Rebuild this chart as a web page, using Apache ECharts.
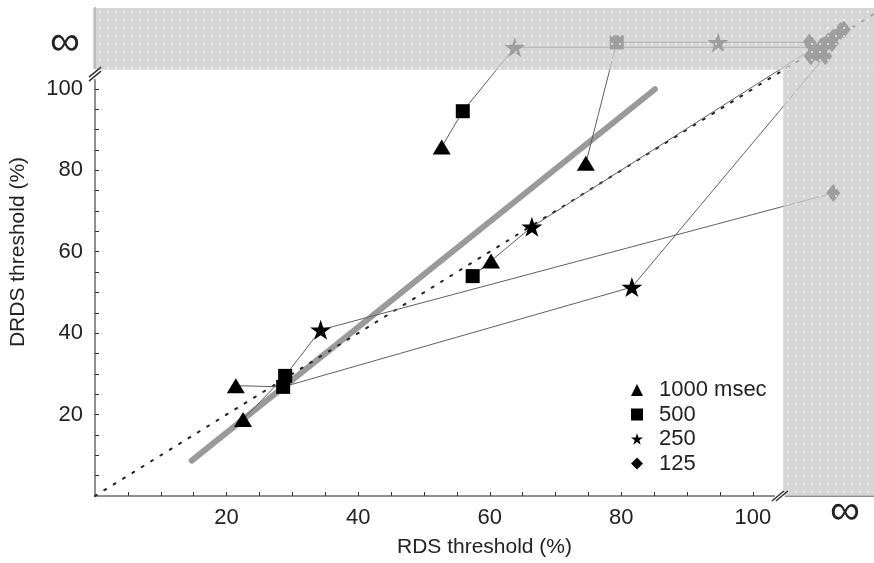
<!DOCTYPE html>
<html><head><meta charset="utf-8">
<script src="https://cdn.jsdelivr.net/npm/echarts@6/dist/echarts.min.js"></script>
<style>html,body{margin:0;padding:0;background:#fff}#c{width:874px;height:563px}</style>
</head><body><div id="c"></div>
<script>
// ---- data ----
const durations = ['1000 msec', '500', '250', '125'];
// one entry per condition (trace), same order in every array
const tri1000 = [[52.7, 85.7], [74.6, 81.7], [60.2, 57.7], [21.4, 27.1], [22.5, 18.8]];
const sq500   = [[55.9, 94.5], [79.3, 111.4], [57.4, 54.0], [28.6, 26.8], [28.9, 29.5]];
const star250 = [[63.8, 110.2], [94.7, 111.4], [66.4, 66.1], [81.6, 51.3], [34.3, 40.8]];
const dia125  = [[110.3, 110.2], [108.6, 111.4], [113.3, 114.2], [111.0, 108.0], [112.2, 74.4]];
const dia125Cluster = [[108.8, 108.0], [109.6, 109.0], [110.6, 110.6], [111.4, 111.6], [112.2, 112.6], [113.8, 114.6], [110.0, 108.6], [112.0, 111.2]];
const fitLine = [[14.7, 8.7], [85.1, 99.9]];
const identityLine = [[0, 0], [118.4, 118.4]];
const xTickValues = [5,10,15,20,25,30,35,40,45,50,55,60,65,70,75,80,85,90,95,100];
const yTickValues = [5,10,15,20,25,30,35,40,45,50,55,60,65,70,75,80,85,90,95,100];
const xLabelValues = [20, 40, 60, 80, 100];
const yLabelValues = [20, 40, 60, 80, 100];
const INF_X = 114;     // position of the "∞" category on x
const INF_Y = 111.2;   // position of the "∞" category on y
const X_BREAK = 104.6; // start of the ∞ band on x
const Y_BREAK = 104.7; // start of the ∞ band on y
const X_MAX = 118.4, Y_MAX = 119.85;

const FONT = 'Liberation Sans';
const chart = echarts.init(document.getElementById('c'), null, {renderer: 'canvas'});
const starPath = 'path://M50,0L61.8,35.1L98.9,35.1L68.8,57.3L80.2,92.7L50,70.8L19.8,92.7L31.2,57.3L1.1,35.1L38.2,35.1Z';
const symbols = ['triangle', 'rect', starPath, 'diamond'];
const sizes = [[18, 15], [14, 14], [21, 20], [14, 18]];
const sets = [tri1000, sq500, star250, dia125.concat(dia125Cluster)];

const series = [];
series.push({type: 'line', data: fitLine, symbol: 'none', silent: true, z: 1,
  lineStyle: {color: '#9a9a9a', width: 6, cap: 'round'}});
series.push({type: 'line', data: identityLine, symbol: 'none', silent: true, z: 2,
  lineStyle: {color: '#222', width: 2, type: [2, 9], cap: 'round'}});
tri1000.forEach((_, i) => {
  series.push({type: 'line', data: [tri1000[i], sq500[i], star250[i], dia125[i]], symbol: 'none',
    silent: true, z: 3, lineStyle: {color: '#606060', width: 1}});
});
sets.forEach((d, k) => {
  series.push({type: 'scatter', name: durations[k], data: d, symbol: symbols[k], symbolSize: sizes[k],
    z: 5, itemStyle: {color: '#000', opacity: 1}});
});

const axisCommon = {
  type: 'value', splitLine: {show: false},
  axisLine: {show: true, lineStyle: {color: '#6a6a6a', width: 1.5}},
  nameTextStyle: {fontFamily: FONT, fontSize: 21, color: '#222'},
  nameLocation: 'middle'
};

chart.setOption({
  animation: false,
  backgroundColor: '#fff',
  grid: {left: 95, right: 0, top: 8, bottom: 66},
  xAxis: Object.assign({}, axisCommon, {
    min: 0, max: X_MAX, name: 'RDS threshold (%)', nameGap: 41,
    axisTick: {show: true, inside: true, length: 4, customValues: xTickValues, lineStyle: {color: '#333'}},
    axisLabel: {customValues: xLabelValues, margin: 11, fontFamily: FONT, fontSize: 22, color: '#222'}
  }),
  yAxis: Object.assign({}, axisCommon, {
    min: 0, max: Y_MAX, name: 'DRDS threshold (%)', nameGap: 66,
    axisTick: {show: true, inside: true, length: 4, customValues: yTickValues, lineStyle: {color: '#333'}},
    axisLabel: {customValues: yLabelValues, margin: 12, fontFamily: FONT, fontSize: 22, color: '#222'}
  }),
  legend: {
    data: durations, orient: 'vertical', left: 626, top: 374, itemWidth: 12, itemHeight: 12, itemGap: 2.5,
    textStyle: {fontFamily: FONT, fontSize: 22, color: '#222', padding: [0, 0, 0, 11]}
  },
  series: series
});

// ---- ∞ bands, break marks and ∞ labels ----
const cvs = document.createElement('canvas');
cvs.width = 8; cvs.height = 8;
const g = cvs.getContext('2d');
g.fillStyle = 'rgba(202,202,202,0.78)'; g.fillRect(0, 0, 8, 8);
g.fillStyle = 'rgba(255,255,255,0.85)'; g.beginPath(); g.arc(4, 4, 0.9, 0, Math.PI * 2); g.fill();

const P = (x, y) => chart.convertToPixel({gridIndex: 0}, [x, y]);
const tl = P(0, Y_MAX), brk = P(X_BREAK, Y_BREAK), br = P(X_MAX, 0);
const pat = {image: cvs, repeat: 'repeat'};
const ybk = P(0, 103.6), xbk = P(104.1, 0), infY = P(0, INF_Y), infX = P(INF_X, 0);
const slash = (cx, cy, dy) => ({type: 'line', z: 101,
  shape: {x1: cx - 6, y1: cy + dy + 5, x2: cx + 6, y2: cy + dy - 5},
  style: {stroke: '#333', lineWidth: 1.5}});
chart.setOption({graphic: {elements: [
  {type: 'rect', z: 100, silent: true, shape: {x: tl[0] - 2, y: tl[1], width: br[0] - tl[0] + 2, height: brk[1] - tl[1]}, style: {fill: pat}},
  {type: 'rect', z: 100, silent: true, shape: {x: brk[0], y: brk[1], width: br[0] - brk[0], height: br[1] - brk[1]}, style: {fill: pat}},
  {type: 'rect', z: 100, silent: true, shape: {x: ybk[0] - 4, y: ybk[1] - 5, width: 8, height: 10}, style: {fill: '#fff'}},
  slash(ybk[0], ybk[1], -2), slash(ybk[0], ybk[1], 2),
  {type: 'rect', z: 100, silent: true, shape: {x: xbk[0] - 5, y: xbk[1] - 3, width: 10, height: 6}, style: {fill: '#fff'}},
  slash(xbk[0] - 2, xbk[1], 0), slash(xbk[0] + 2, xbk[1], 0),
  {type: 'text', z: 102, x: 65, y: infY[1], style: {text: '∞', fontFamily: FONT, fontSize: 42, fill: '#222', align: 'center', verticalAlign: 'middle'}},
  {type: 'text', z: 102, x: infX[0], y: infX[1] + 16, style: {text: '∞', fontFamily: FONT, fontSize: 42, fill: '#222', align: 'center', verticalAlign: 'middle'}}
]}});
</script></body></html>
